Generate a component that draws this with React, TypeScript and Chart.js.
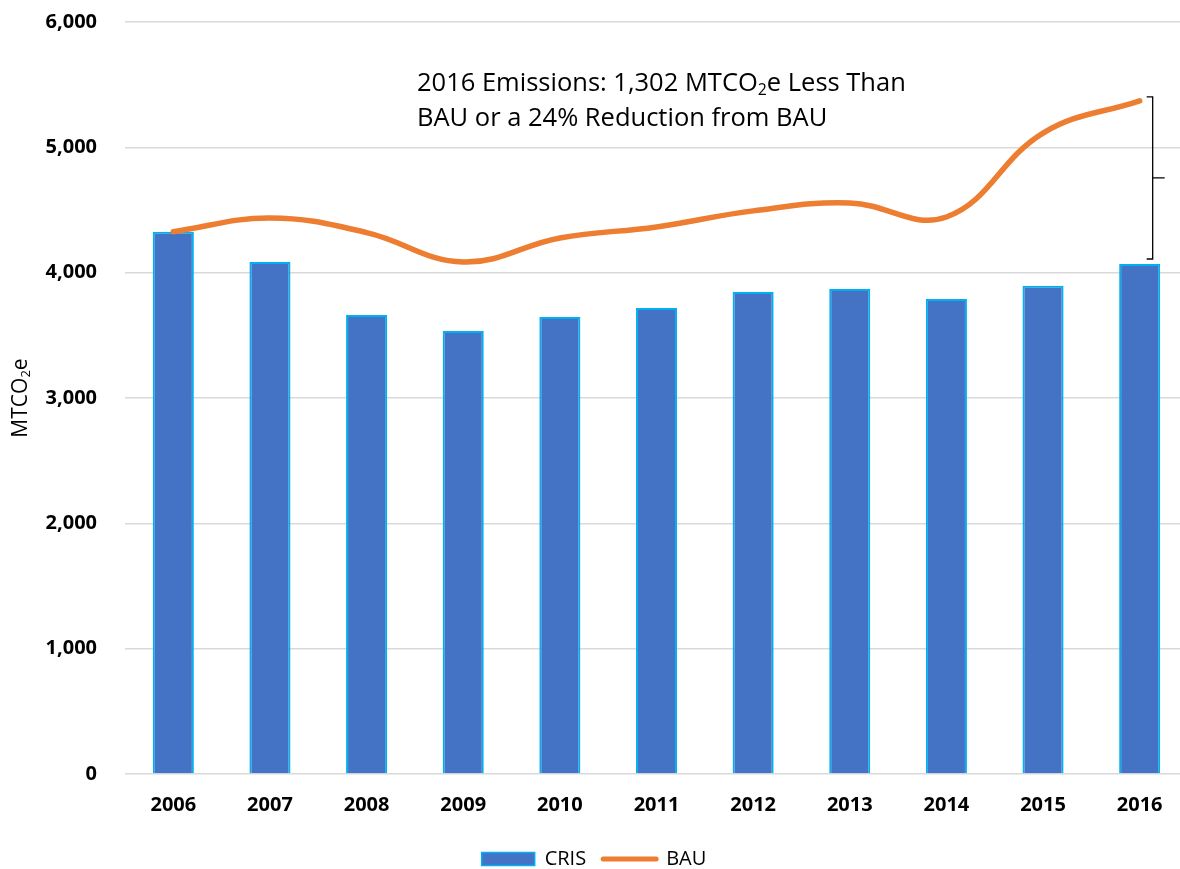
import React, { useEffect, useRef } from "react";
import { Chart, registerables } from "chart.js";

Chart.register(...registerables);

const categories = ["2006", "2007", "2008", "2009", "2010", "2011", "2012", "2013", "2014", "2015", "2016"];
const crisValues = [4327, 4085, 3662, 3535, 3646, 3718, 3846, 3870, 3790, 3896, 4069];
const bauValues = [4327, 4436, 4320, 4085, 4277, 4365, 4493, 4556, 4444, 5114, 5371];
const yTickValues = [0, 1000, 2000, 3000, 4000, 5000, 6000];
const noteLine1 = ["2016 Emissions: 1,302 MTCO", "2", "e Less Than"];
const noteLine2 = "BAU or a 24% Reduction from BAU";
const yTitleParts = ["MTCO", "2", "e"];

const FONT = "'Open Sans', 'Liberation Sans', sans-serif";
const BAR_FILL = "#4472C4";
const BAR_BORDER = "#00B0F0";
const LINE_COLOR = "#ED7D31";
const GRID = "#D9D9D9";

function drawRich(ctx: CanvasRenderingContext2D, parts: string[], x: number, y: number, size: number) {
  let cx = x;
  parts.forEach((p, i) => {
    const isSub = i % 2 === 1;
    const fs = isSub ? size * 0.62 : size;
    ctx.font = `${fs}px ${FONT}`;
    ctx.fillText(p, cx, isSub ? y + size * 0.16 : y);
    cx += ctx.measureText(p).width;
  });
}

const customDraw = {
  id: "customDraw",
  afterDatasetsDraw(chart: any) {
    const ctx: CanvasRenderingContext2D = chart.ctx;
    const xs = chart.scales.x;
    const ys = chart.scales.y;
    ctx.save();
    ctx.fillStyle = "#000";
    ctx.textBaseline = "alphabetic";
    ctx.textAlign = "left";
    drawRich(ctx, noteLine1, 417, 91, 25.5);
    ctx.font = `25.5px ${FONT}`;
    ctx.fillText(noteLine2, 417, 126);

    const last = categories.length - 1;
    const bx = xs.getPixelForValue(last) + 13;
    const top = ys.getPixelForValue(bauValues[last]) - 4;
    const bottom = ys.getPixelForValue(crisValues[last]) - 5;
    const mid = (top + bottom) / 2;
    ctx.strokeStyle = "#000";
    ctx.lineWidth = 1.3;
    ctx.beginPath();
    ctx.moveTo(bx - 6, top);
    ctx.lineTo(bx, top);
    ctx.lineTo(bx, bottom);
    ctx.lineTo(bx - 6, bottom);
    ctx.moveTo(bx, mid);
    ctx.lineTo(bx + 12, mid);
    ctx.stroke();

    ctx.translate(27, 398);
    ctx.rotate(-Math.PI / 2);
    let w = 0;
    yTitleParts.forEach((p, i) => {
      ctx.font = `${i % 2 === 1 ? 21 * 0.62 : 21}px ${FONT}`;
      w += ctx.measureText(p).width;
    });
    drawRich(ctx, yTitleParts, -w / 2, 0, 21);
    ctx.restore();
  },
};

export default function App() {
  const ref = useRef<HTMLCanvasElement | null>(null);

  useEffect(() => {
    if (!ref.current) return;
    const chart = new Chart(ref.current, {
      type: "bar",
      data: {
        labels: categories,
        datasets: [
          {
            type: "bar",
            label: "CRIS",
            data: crisValues,
            backgroundColor: BAR_FILL,
            borderColor: BAR_BORDER,
            borderWidth: 2,
            barPercentage: 0.425,
            categoryPercentage: 1,
            order: 1,
          },
          {
            type: "line",
            label: "BAU",
            data: bauValues,
            borderColor: LINE_COLOR,
            backgroundColor: LINE_COLOR,
            borderWidth: 5.5,
            borderCapStyle: "round",
            tension: 0.4,
            pointRadius: 0,
            pointHoverRadius: 0,
            fill: false,
            order: 0,
          } as any,
        ],
      },
      plugins: [customDraw],
      options: {
        animation: false,
        responsive: false,
        maintainAspectRatio: false,
        layout: { padding: { top: 22, right: 0, bottom: 4, left: 0 } },
        elements: { line: { capBezierPoints: false } as any },
        plugins: {
          tooltip: { enabled: false },
          title: { display: false },
          legend: {
            display: true,
            position: "bottom",
            labels: {
              usePointStyle: true,
              pointStyleWidth: 53,
              boxHeight: 13,
              padding: 17,
              color: "#000",
              font: { family: FONT, size: 20 },
              generateLabels: () => [
                {
                  text: "CRIS",
                  fillStyle: BAR_FILL,
                  strokeStyle: BAR_BORDER,
                  lineWidth: 1.5,
                  pointStyle: "rect",
                  hidden: false,
                  datasetIndex: 0,
                  fontColor: "#000",
                } as any,
                {
                  text: "BAU",
                  fillStyle: LINE_COLOR,
                  strokeStyle: LINE_COLOR,
                  lineWidth: 5,
                  lineCap: "round",
                  pointStyle: "line",
                  hidden: false,
                  datasetIndex: 1,
                  fontColor: "#000",
                } as any,
              ],
            },
          },
        },
        scales: {
          x: {
            grid: { display: false, drawTicks: false },
            border: { display: false },
            ticks: {
              color: "#000",
              padding: 19,
              font: { family: FONT, size: 20, weight: "bold" },
              maxRotation: 0,
            },
            afterFit: (s: any) => {
              s.height = 58;
            },
          },
          y: {
            min: 0,
            max: 6000,
            grid: { color: GRID, lineWidth: 1.5, drawTicks: false },
            border: { display: false },
            afterBuildTicks: (s: any) => {
              s.ticks = yTickValues.map((v) => ({ value: v }));
            },
            ticks: {
              color: "#000",
              padding: 28,
              font: { family: FONT, size: 20, weight: "bold" },
              callback: (v: any) => Number(v).toLocaleString("en-US"),
            },
            afterFit: (s: any) => {
              s.width = 125;
              s.paddingTop = 0;
              s.paddingBottom = 0;
            },
          },
        },
      },
    });
    return () => chart.destroy();
  }, []);

  return (
    <div style={{ position: "absolute", left: 0, top: 0, width: 1180, height: 869, overflow: "hidden", background: "#fff" }}>
      <canvas ref={ref} width={1188} height={883} style={{ width: 1188, height: 883, display: "block" }} />
    </div>
  );
}
